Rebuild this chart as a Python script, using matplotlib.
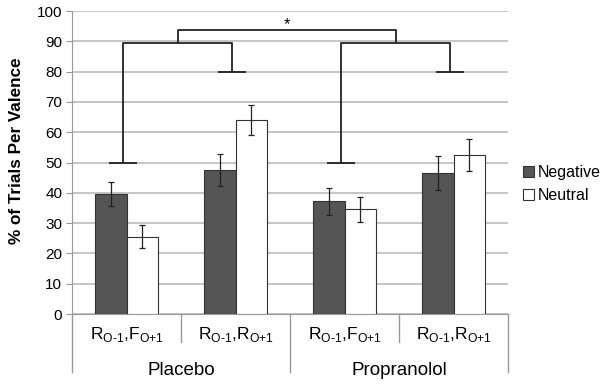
import matplotlib
matplotlib.use("Agg")
import matplotlib.pyplot as plt
from matplotlib.patches import Patch

plt.rcParams['font.family'] = ['Liberation Sans', 'DejaVu Sans']
plt.rcParams['mathtext.fontset'] = 'custom'
plt.rcParams['mathtext.rm'] = 'Liberation Sans'

# data
conditions = ['Placebo', 'Propranolol']
categories = [r'R$_{\mathrm{O\text{-}1}}$,F$_{\mathrm{O{+}1}}$',
              r'R$_{\mathrm{O\text{-}1}}$,R$_{\mathrm{O{+}1}}$',
              r'R$_{\mathrm{O\text{-}1}}$,F$_{\mathrm{O{+}1}}$',
              r'R$_{\mathrm{O\text{-}1}}$,R$_{\mathrm{O{+}1}}$']
negative = [39.5, 47.6, 37.2, 46.5]
negative_err = [4.0, 5.3, 4.5, 5.7]
neutral = [25.5, 64.0, 34.5, 52.5]
neutral_err = [3.8, 5.0, 4.2, 5.3]
yticks = list(range(0, 101, 10))

# significance brackets
bracket_low = [50, 80]
bracket_mid = 89.3
bracket_top = 93.7

fig = plt.figure(figsize=(6, 3.85), dpi=100)
ax = fig.add_axes([0.12, 0.1844, 0.7267, 0.787])

w = 0.2857
xs = list(range(len(categories)))
ax.bar([x - w / 2 for x in xs], negative, w, color='#555555', edgecolor='#333333',
       linewidth=0.8, zorder=3)
ax.bar([x + w / 2 for x in xs], neutral, w, color='white', edgecolor='#333333',
       linewidth=0.8, zorder=3)
ax.errorbar([x - w / 2 for x in xs], negative, yerr=negative_err, fmt='none',
            ecolor='#222222', elinewidth=0.9, capsize=2.5, capthick=0.9, zorder=4)
ax.errorbar([x + w / 2 for x in xs], neutral, yerr=neutral_err, fmt='none',
            ecolor='#222222', elinewidth=0.9, capsize=2.5, capthick=0.9, zorder=4)

ax.set_xlim(-0.5, 3.5)
ax.set_ylim(0, 100)
ax.set_yticks(yticks)
ax.tick_params(axis='y', labelsize=11, length=4, color='#999999', pad=3)
ax.set_xticks([])
ax.yaxis.grid(True, color='#bbbbbb', linewidth=1.2, zorder=0)
ax.set_axisbelow(True)
for s in ['top', 'right']:
    ax.spines[s].set_visible(False)
ax.spines['left'].set_color('#999999')
ax.spines['bottom'].set_color('#999999')
ax.set_ylabel('% of Trials Per Valence', fontsize=12.3, fontweight='bold')
ax.yaxis.set_label_coords(-0.11, 0.54)

# brackets
bk = dict(color='#222222', linewidth=1.3, zorder=5, solid_capstyle='butt')
cap = 0.13
off = -0.03
for g in range(2):
    xl = xs[2 * g] + off
    xr = xs[2 * g + 1] + off
    ax.plot([xl, xl, xr, xr], [bracket_low[0], bracket_mid, bracket_mid, bracket_low[1]], **bk)
    ax.plot([xl - cap, xl + cap], [bracket_low[0]] * 2, **bk)
    ax.plot([xr - cap, xr + cap], [bracket_low[1]] * 2, **bk)
mids = [(xs[0] + xs[1]) / 2 + off, (xs[2] + xs[3]) / 2 + off]
ax.plot([mids[0], mids[0], mids[1], mids[1]],
        [bracket_mid, bracket_top, bracket_top, bracket_mid], **bk)
ax.text((mids[0] + mids[1]) / 2, 95.5, '*', ha='center', va='center', fontsize=12)

# two-level category axis
tr = ax.get_xaxis_transform()
for x, lab in zip(xs, categories):
    ax.text(x, -0.069, lab, transform=tr, ha='center', va='center', fontsize=12.5)
for b in [0.5, 2.5]:
    ax.plot([b, b], [0, -0.092], transform=tr, color='#999999', linewidth=1, clip_on=False)
for b in [-0.5, 1.5, 3.5]:
    ax.plot([b, b], [0, -0.19], transform=tr, color='#999999', linewidth=1, clip_on=False)
for g, name in enumerate(conditions):
    ax.text(2 * g + 0.5, -0.185, name, transform=tr, ha='center', va='center', fontsize=13.5)

handles = [Patch(facecolor='#555555', edgecolor='#333333', linewidth=0.8),
           Patch(facecolor='white', edgecolor='#333333', linewidth=0.8)]
fig.legend(handles, ['Negative', 'Neutral'], loc='upper left',
           bbox_to_anchor=(0.872, 1 - 165 / 385), frameon=False, fontsize=11.5,
           handlelength=0.7, handleheight=0.7, handletextpad=0.2,
           labelspacing=0.5, borderpad=0, borderaxespad=0)

fig.savefig('out.png', dpi=100)
